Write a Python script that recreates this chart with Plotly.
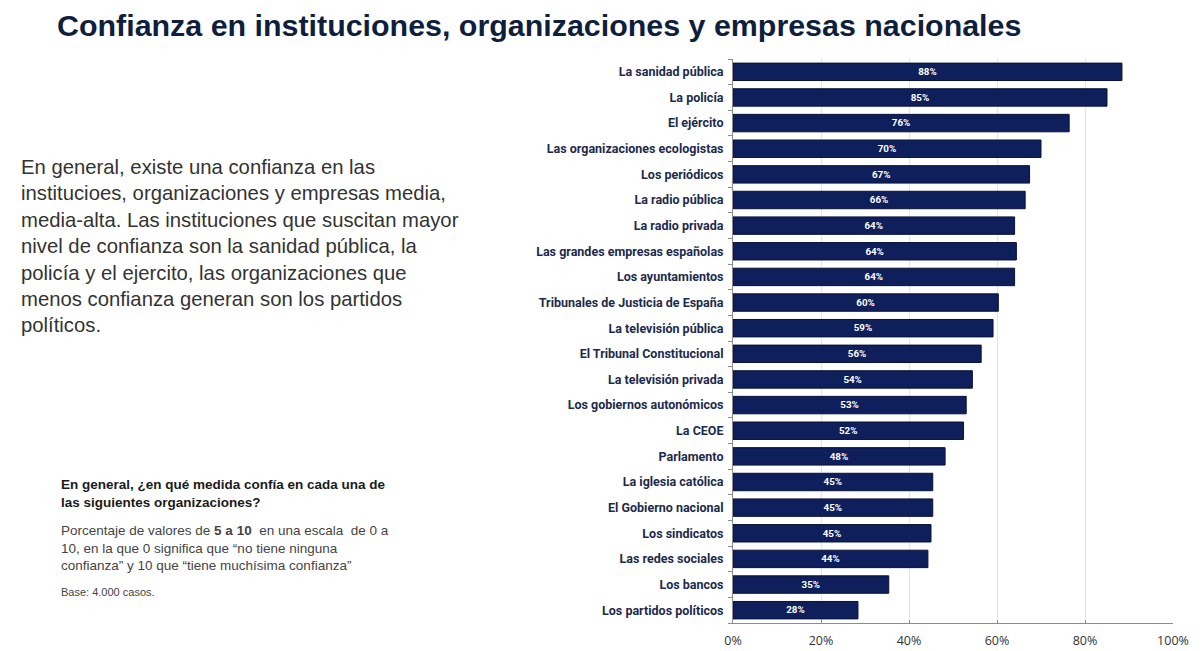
import plotly.graph_objects as go

categories = [
    "La sanidad pública", "La policía", "El ejército", "Las organizaciones ecologistas",
    "Los periódicos", "La radio pública", "La radio privada", "Las grandes empresas españolas",
    "Los ayuntamientos", "Tribunales de Justicia de España", "La televisión pública",
    "El Tribunal Constitucional", "La televisión privada", "Los gobiernos autonómicos",
    "La CEOE", "Parlamento", "La iglesia católica", "El Gobierno nacional",
    "Los sindicatos", "Las redes sociales", "Los bancos", "Los partidos políticos",
]
values = [88.4, 85.0, 76.4, 70.0, 67.4, 66.4, 64.0, 64.4, 64.0, 60.3, 59.1,
          56.4, 54.4, 53.0, 52.4, 48.2, 45.4, 45.4, 45.0, 44.3, 35.4, 28.4]
labels = ["88%", "85%", "76%", "70%", "67%", "66%", "64%", "64%", "64%", "60%", "59%",
          "56%", "54%", "53%", "52%", "48%", "45%", "45%", "45%", "44%", "35%", "28%"]
x_ticks = [0, 20, 40, 60, 80, 100]
x_tick_labels = ["0%", "20%", "40%", "60%", "80%", "100%"]

title = "Confianza en instituciones, organizaciones y empresas nacionales"
paragraph = ("En general, existe una confianza en las<br>"
             "institucioes, organizaciones y empresas media,<br>"
             "media-alta. Las instituciones que suscitan mayor<br>"
             "nivel de confianza son la sanidad pública, la<br>"
             "policía y el ejercito, las organizaciones que<br>"
             "menos confianza generan son los partidos<br>"
             "políticos.")
question = "En general, ¿en qué medida confía en cada una de<br>las siguientes organizaciones?"
note = ("Porcentaje de valores de <b>5 a 10</b>  en una escala  de 0 a<br>"
        "10, en la que 0 significa que “no tiene ninguna<br>"
        "confianza” y 10 que “tiene muchísima confianza”")
base = "Base: 4.000 casos."

OFF = 8  # page offset of the figure
L, R, T, B = 733 - OFF, 1202 - (1173 - OFF), 59 - OFF, 651 - (623 - OFF)
W_PLOT = 1202 - L - R
H_PLOT = 651 - T - B


def px(xp):
    return (xp - OFF - L) / W_PLOT


def py(yp):
    return 1 - (yp - OFF - T) / H_PLOT


fig = go.Figure(go.Bar(
    x=values, y=categories, orientation="h",
    marker=dict(color="#0e1f5b", line=dict(color="#08123a", width=1)),
    text=labels, textposition="inside", insidetextanchor="middle",
    textfont=dict(color="white", size=12, family="Roboto", weight="bold"),
    width=0.68, hoverinfo="skip",
))

fig.update_layout(
    width=1202, height=651,
    margin=dict(l=L, r=R, t=T, b=B, autoexpand=False),
    paper_bgcolor="white", plot_bgcolor="white",
    showlegend=False,
    font=dict(family="Liberation Sans, Arial", color="#333333"),
)
fig.update_yaxes(
    categoryorder="array", categoryarray=categories[::-1],
    showline=True, linecolor="#8c8c8c", linewidth=1,
    ticks="outside", tickson="boundaries", ticklen=4, tickcolor="#8c8c8c",
    tickfont=dict(family="Roboto", size=12.5, color="#1c2a4d", weight="bold"),
    ticklabelstandoff=6, showgrid=False, fixedrange=True, automargin=False,
)
fig.update_xaxes(
    range=[0, 100], tickvals=x_ticks, ticktext=x_tick_labels,
    showline=True, linecolor="#8c8c8c", linewidth=1,
    showgrid=True, gridcolor="#e4e4e4", gridwidth=1,
    ticks="inside", ticklen=3, tickcolor="#8c8c8c",
    tickfont=dict(family="Open Sans", size=12.5, color="#333333"),
    ticklabelstandoff=6, automargin=False,
    zeroline=False, fixedrange=True,
)

fig.add_annotation(text=f"<b>{title}</b>", xref="paper", yref="paper",
                   x=px(55), y=py(25), xanchor="left", yanchor="middle", showarrow=False,
                   font=dict(family="Liberation Sans, Arial", size=30.4, color="#0f1e3d"))
fig.add_annotation(text=paragraph, xref="paper", yref="paper", align="left",
                   x=px(19), y=py(154), xanchor="left", yanchor="top", showarrow=False,
                   font=dict(family="Liberation Sans, Arial", size=20.3, color="#333333"))
fig.add_annotation(text=f"<b>{question}</b>", xref="paper", yref="paper", align="left",
                   x=px(59), y=py(475), xanchor="left", yanchor="top", showarrow=False,
                   font=dict(family="Liberation Sans, Arial", size=13.5, color="#1a1a1a"))
fig.add_annotation(text=note, xref="paper", yref="paper", align="left",
                   x=px(59), y=py(521), xanchor="left", yanchor="top", showarrow=False,
                   font=dict(family="Liberation Sans, Arial", size=13.5, color="#444444"))
fig.add_annotation(text=base, xref="paper", yref="paper", align="left",
                   x=px(59), y=py(584), xanchor="left", yanchor="top", showarrow=False,
                   font=dict(family="Liberation Sans, Arial", size=11, color="#444444"))

fig.write_html("out.html")
